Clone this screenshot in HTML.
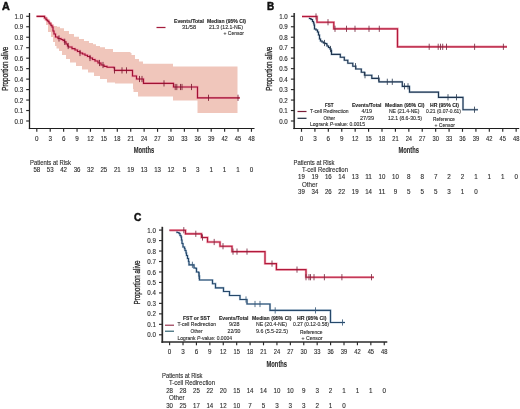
<!DOCTYPE html>
<html><head><meta charset="utf-8"><style>
html,body{margin:0;padding:0;background:#fff;}
svg{display:block;will-change:transform;}
text{font-family:"Liberation Sans", sans-serif;stroke:#2c2c2c;stroke-width:0.12px;}
</style></head><body>
<svg width="520" height="409" viewBox="0 0 520 409" fill="#2c2c2c" font-family='"Liberation Sans", sans-serif'>
<rect width="520" height="409" fill="#fff"/>
<text x="2.00" y="9.80" font-size="10" text-anchor="start" font-weight="bold" fill="#111" textLength="7.80" lengthAdjust="spacingAndGlyphs" style="stroke:#111;stroke-width:0.45px">A</text>
<path d="M43.50,16.40L46.00,16.40L46.00,17.50L48.00,17.50L48.00,19.50L50.00,19.50L50.00,22.00L52.00,22.00L52.00,24.50L54.00,24.50L54.00,26.00L57.00,26.00L57.00,26.80L60.00,26.80L60.00,28.20L64.00,28.20L64.00,31.00L69.00,31.00L69.00,34.00L74.00,34.00L74.00,36.80L79.00,36.80L79.00,39.00L84.00,39.00L84.00,41.00L89.00,41.00L89.00,43.00L93.00,43.00L93.00,44.30L96.00,44.30L96.00,46.00L100.00,46.00L100.00,47.30L105.00,47.30L105.00,49.00L113.00,49.00L113.00,52.00L130.50,52.00L130.50,53.00L131.50,53.00L131.50,55.00L135.00,55.00L135.00,59.00L139.00,59.00L139.00,61.50L143.00,61.50L143.00,63.80L173.00,63.80L173.00,63.80L173.00,66.50L237.50,66.50L237.50,66.50L237.50,113.00L197.50,113.00L197.50,113.00L197.50,100.50L173.00,100.50L173.00,100.50L173.00,96.50L144.00,96.50L144.00,96.50L138.00,96.50L138.00,92.00L133.50,92.00L133.50,89.00L133.00,89.00L133.00,83.50L115.00,83.50L115.00,82.50L107.00,82.50L107.00,79.00L100.00,79.00L100.00,76.00L94.00,76.00L94.00,72.50L88.00,72.50L88.00,69.50L82.00,69.50L82.00,66.00L76.00,66.00L76.00,62.50L70.00,62.50L70.00,59.00L66.00,59.00L66.00,55.00L62.00,55.00L62.00,51.00L59.00,51.00L59.00,48.50L56.50,48.50L56.50,46.00L55.00,46.00L55.00,42.00L53.00,42.00L53.00,37.00L51.00,37.00L51.00,32.00L48.00,32.00L48.00,25.00L46.00,25.00L46.00,20.50L44.50,20.50L44.50,17.50L43.50,17.50L43.50,16.40Z" fill="#f0c6bb"/>
<line x1="29.50" y1="13.00" x2="29.50" y2="129.10" stroke="#1e1e1e" stroke-width="1.3"/>
<line x1="28.85" y1="128.50" x2="254.50" y2="128.50" stroke="#1e1e1e" stroke-width="1.2"/>
<line x1="26.20" y1="121.00" x2="29.50" y2="121.00" stroke="#2a2a2a" stroke-width="1.15"/>
<text x="23.10" y="123.55" font-size="6.5" text-anchor="end" textLength="8.60" lengthAdjust="spacingAndGlyphs">0.0</text>
<line x1="26.20" y1="110.53" x2="29.50" y2="110.53" stroke="#2a2a2a" stroke-width="1.15"/>
<text x="23.10" y="113.08" font-size="6.5" text-anchor="end" textLength="8.60" lengthAdjust="spacingAndGlyphs">0.1</text>
<line x1="26.20" y1="100.06" x2="29.50" y2="100.06" stroke="#2a2a2a" stroke-width="1.15"/>
<text x="23.10" y="102.61" font-size="6.5" text-anchor="end" textLength="8.60" lengthAdjust="spacingAndGlyphs">0.2</text>
<line x1="26.20" y1="89.59" x2="29.50" y2="89.59" stroke="#2a2a2a" stroke-width="1.15"/>
<text x="23.10" y="92.14" font-size="6.5" text-anchor="end" textLength="8.60" lengthAdjust="spacingAndGlyphs">0.3</text>
<line x1="26.20" y1="79.12" x2="29.50" y2="79.12" stroke="#2a2a2a" stroke-width="1.15"/>
<text x="23.10" y="81.67" font-size="6.5" text-anchor="end" textLength="8.60" lengthAdjust="spacingAndGlyphs">0.4</text>
<line x1="26.20" y1="68.65" x2="29.50" y2="68.65" stroke="#2a2a2a" stroke-width="1.15"/>
<text x="23.10" y="71.20" font-size="6.5" text-anchor="end" textLength="8.60" lengthAdjust="spacingAndGlyphs">0.5</text>
<line x1="26.20" y1="58.18" x2="29.50" y2="58.18" stroke="#2a2a2a" stroke-width="1.15"/>
<text x="23.10" y="60.73" font-size="6.5" text-anchor="end" textLength="8.60" lengthAdjust="spacingAndGlyphs">0.6</text>
<line x1="26.20" y1="47.71" x2="29.50" y2="47.71" stroke="#2a2a2a" stroke-width="1.15"/>
<text x="23.10" y="50.26" font-size="6.5" text-anchor="end" textLength="8.60" lengthAdjust="spacingAndGlyphs">0.7</text>
<line x1="26.20" y1="37.24" x2="29.50" y2="37.24" stroke="#2a2a2a" stroke-width="1.15"/>
<text x="23.10" y="39.79" font-size="6.5" text-anchor="end" textLength="8.60" lengthAdjust="spacingAndGlyphs">0.8</text>
<line x1="26.20" y1="26.77" x2="29.50" y2="26.77" stroke="#2a2a2a" stroke-width="1.15"/>
<text x="23.10" y="29.32" font-size="6.5" text-anchor="end" textLength="8.60" lengthAdjust="spacingAndGlyphs">0.9</text>
<line x1="26.20" y1="16.30" x2="29.50" y2="16.30" stroke="#2a2a2a" stroke-width="1.15"/>
<text x="23.10" y="18.85" font-size="6.5" text-anchor="end" textLength="8.60" lengthAdjust="spacingAndGlyphs">1.0</text>
<line x1="36.80" y1="128.50" x2="36.80" y2="131.80" stroke="#2a2a2a" stroke-width="1.15"/>
<text x="36.80" y="140.90" font-size="6.8" text-anchor="middle" textLength="3.50" lengthAdjust="spacingAndGlyphs">0</text>
<line x1="50.22" y1="128.50" x2="50.22" y2="131.80" stroke="#2a2a2a" stroke-width="1.15"/>
<text x="50.22" y="140.90" font-size="6.8" text-anchor="middle" textLength="3.50" lengthAdjust="spacingAndGlyphs">3</text>
<line x1="63.63" y1="128.50" x2="63.63" y2="131.80" stroke="#2a2a2a" stroke-width="1.15"/>
<text x="63.63" y="140.90" font-size="6.8" text-anchor="middle" textLength="3.50" lengthAdjust="spacingAndGlyphs">6</text>
<line x1="77.05" y1="128.50" x2="77.05" y2="131.80" stroke="#2a2a2a" stroke-width="1.15"/>
<text x="77.05" y="140.90" font-size="6.8" text-anchor="middle" textLength="3.50" lengthAdjust="spacingAndGlyphs">9</text>
<line x1="90.46" y1="128.50" x2="90.46" y2="131.80" stroke="#2a2a2a" stroke-width="1.15"/>
<text x="90.46" y="140.90" font-size="6.8" text-anchor="middle" textLength="6.40" lengthAdjust="spacingAndGlyphs">12</text>
<line x1="103.88" y1="128.50" x2="103.88" y2="131.80" stroke="#2a2a2a" stroke-width="1.15"/>
<text x="103.88" y="140.90" font-size="6.8" text-anchor="middle" textLength="6.40" lengthAdjust="spacingAndGlyphs">15</text>
<line x1="117.30" y1="128.50" x2="117.30" y2="131.80" stroke="#2a2a2a" stroke-width="1.15"/>
<text x="117.30" y="140.90" font-size="6.8" text-anchor="middle" textLength="6.40" lengthAdjust="spacingAndGlyphs">18</text>
<line x1="130.71" y1="128.50" x2="130.71" y2="131.80" stroke="#2a2a2a" stroke-width="1.15"/>
<text x="130.71" y="140.90" font-size="6.8" text-anchor="middle" textLength="6.40" lengthAdjust="spacingAndGlyphs">21</text>
<line x1="144.13" y1="128.50" x2="144.13" y2="131.80" stroke="#2a2a2a" stroke-width="1.15"/>
<text x="144.13" y="140.90" font-size="6.8" text-anchor="middle" textLength="6.40" lengthAdjust="spacingAndGlyphs">24</text>
<line x1="157.54" y1="128.50" x2="157.54" y2="131.80" stroke="#2a2a2a" stroke-width="1.15"/>
<text x="157.54" y="140.90" font-size="6.8" text-anchor="middle" textLength="6.40" lengthAdjust="spacingAndGlyphs">27</text>
<line x1="170.96" y1="128.50" x2="170.96" y2="131.80" stroke="#2a2a2a" stroke-width="1.15"/>
<text x="170.96" y="140.90" font-size="6.8" text-anchor="middle" textLength="6.40" lengthAdjust="spacingAndGlyphs">30</text>
<line x1="184.38" y1="128.50" x2="184.38" y2="131.80" stroke="#2a2a2a" stroke-width="1.15"/>
<text x="184.38" y="140.90" font-size="6.8" text-anchor="middle" textLength="6.40" lengthAdjust="spacingAndGlyphs">33</text>
<line x1="197.79" y1="128.50" x2="197.79" y2="131.80" stroke="#2a2a2a" stroke-width="1.15"/>
<text x="197.79" y="140.90" font-size="6.8" text-anchor="middle" textLength="6.40" lengthAdjust="spacingAndGlyphs">36</text>
<line x1="211.21" y1="128.50" x2="211.21" y2="131.80" stroke="#2a2a2a" stroke-width="1.15"/>
<text x="211.21" y="140.90" font-size="6.8" text-anchor="middle" textLength="6.40" lengthAdjust="spacingAndGlyphs">39</text>
<line x1="224.62" y1="128.50" x2="224.62" y2="131.80" stroke="#2a2a2a" stroke-width="1.15"/>
<text x="224.62" y="140.90" font-size="6.8" text-anchor="middle" textLength="6.40" lengthAdjust="spacingAndGlyphs">42</text>
<line x1="238.04" y1="128.50" x2="238.04" y2="131.80" stroke="#2a2a2a" stroke-width="1.15"/>
<text x="238.04" y="140.90" font-size="6.8" text-anchor="middle" textLength="6.40" lengthAdjust="spacingAndGlyphs">45</text>
<line x1="251.46" y1="128.50" x2="251.46" y2="131.80" stroke="#2a2a2a" stroke-width="1.15"/>
<text x="251.46" y="140.90" font-size="6.8" text-anchor="middle" textLength="6.40" lengthAdjust="spacingAndGlyphs">48</text>
<text x="144.00" y="153.20" font-size="9.4" text-anchor="middle" font-weight="bold" fill="#2a2a2a" textLength="20.50" lengthAdjust="spacingAndGlyphs">Months</text>
<text x="0" y="0" font-size="8.6" text-anchor="middle" fill="#2a2a2a" style="stroke:#2a2a2a;stroke-width:0.32px" textLength="44.2" lengthAdjust="spacingAndGlyphs" transform="translate(7.50,68.70) rotate(-90)">Proportion alive</text>
<path d="M36.50,16.40H43.50H44.50V18.00H46.00V19.50H47.00V20.50H48.00V21.50H49.00V23.00H50.00V24.00H51.00V25.50H52.00V27.00H53.00V31.00H54.00V34.00H55.50V37.00H58.00V38.50H61.00V39.50H63.00V40.50H64.50V41.80H66.00V44.00H67.50V46.00H68.50V47.00H72.00V48.60H75.00V50.00H77.50V51.50H80.00V53.00H82.50V54.00H85.00V55.20H87.50V56.50H90.00V58.00H92.50V59.50H95.00V61.00H98.00V63.00H101.00V65.00H104.00V66.30H107.00V67.20H114.00V67.80H114.50V70.40H132.50H132.50V76.00H136.50V79.00H143.50V83.40H173.00H173.50V87.00H197.50H197.50V97.80H239.80" fill="none" stroke="#f29aac" stroke-width="2.3"/>
<path d="M36.50,16.40H43.50H44.50V18.00H46.00V19.50H47.00V20.50H48.00V21.50H49.00V23.00H50.00V24.00H51.00V25.50H52.00V27.00H53.00V31.00H54.00V34.00H55.50V37.00H58.00V38.50H61.00V39.50H63.00V40.50H64.50V41.80H66.00V44.00H67.50V46.00H68.50V47.00H72.00V48.60H75.00V50.00H77.50V51.50H80.00V53.00H82.50V54.00H85.00V55.20H87.50V56.50H90.00V58.00H92.50V59.50H95.00V61.00H98.00V63.00H101.00V65.00H104.00V66.30H107.00V67.20H114.00V67.80H114.50V70.40H132.50H132.50V76.00H136.50V79.00H143.50V83.40H173.00H173.50V87.00H197.50H197.50V97.80H239.80" fill="none" stroke="#a01232" stroke-width="1.15"/>
<line x1="59.00" y1="35.40" x2="59.00" y2="41.60" stroke="#7a1a30" stroke-width="0.85"/>
<line x1="64.70" y1="38.70" x2="64.70" y2="44.90" stroke="#7a1a30" stroke-width="0.85"/>
<line x1="68.20" y1="42.90" x2="68.20" y2="49.10" stroke="#7a1a30" stroke-width="0.85"/>
<line x1="80.00" y1="49.90" x2="80.00" y2="56.10" stroke="#7a1a30" stroke-width="0.85"/>
<line x1="90.00" y1="54.90" x2="90.00" y2="61.10" stroke="#7a1a30" stroke-width="0.85"/>
<line x1="99.50" y1="59.90" x2="99.50" y2="66.10" stroke="#7a1a30" stroke-width="0.85"/>
<line x1="103.00" y1="61.90" x2="103.00" y2="68.10" stroke="#7a1a30" stroke-width="0.85"/>
<line x1="114.50" y1="67.30" x2="114.50" y2="73.50" stroke="#7a1a30" stroke-width="0.85"/>
<line x1="122.00" y1="67.30" x2="122.00" y2="73.50" stroke="#7a1a30" stroke-width="0.85"/>
<line x1="126.50" y1="67.30" x2="126.50" y2="73.50" stroke="#7a1a30" stroke-width="0.85"/>
<line x1="139.50" y1="75.90" x2="139.50" y2="82.10" stroke="#7a1a30" stroke-width="0.85"/>
<line x1="142.00" y1="75.90" x2="142.00" y2="82.10" stroke="#7a1a30" stroke-width="0.85"/>
<line x1="164.00" y1="80.30" x2="164.00" y2="86.50" stroke="#7a1a30" stroke-width="0.85"/>
<line x1="175.20" y1="83.90" x2="175.20" y2="90.10" stroke="#7a1a30" stroke-width="0.85"/>
<line x1="176.80" y1="83.90" x2="176.80" y2="90.10" stroke="#7a1a30" stroke-width="0.85"/>
<line x1="180.50" y1="83.90" x2="180.50" y2="90.10" stroke="#7a1a30" stroke-width="0.85"/>
<line x1="182.00" y1="83.90" x2="182.00" y2="90.10" stroke="#7a1a30" stroke-width="0.85"/>
<line x1="191.50" y1="83.90" x2="191.50" y2="90.10" stroke="#7a1a30" stroke-width="0.85"/>
<line x1="208.50" y1="94.70" x2="208.50" y2="100.90" stroke="#7a1a30" stroke-width="0.85"/>
<line x1="238.00" y1="94.70" x2="238.00" y2="100.90" stroke="#7a1a30" stroke-width="0.85"/>
<line x1="156.50" y1="27.50" x2="165.50" y2="27.50" stroke="#a51c3c" stroke-width="1.25"/>
<text x="174.00" y="22.80" font-size="5.2" text-anchor="start" font-weight="bold" fill="#1e1e1e" textLength="30.00" lengthAdjust="spacingAndGlyphs">Events/Total</text>
<text x="207.00" y="22.80" font-size="5.2" text-anchor="start" font-weight="bold" fill="#1e1e1e" textLength="39.00" lengthAdjust="spacingAndGlyphs">Median (95% CI)</text>
<text x="189.00" y="29.00" font-size="5.2" text-anchor="middle" textLength="14.00" lengthAdjust="spacingAndGlyphs">31/58</text>
<text x="226.00" y="29.00" font-size="5.2" text-anchor="middle" textLength="34.00" lengthAdjust="spacingAndGlyphs">21.3 (12.1-NE)</text>
<text x="244.00" y="34.60" font-size="5.2" text-anchor="end" textLength="20.50" lengthAdjust="spacingAndGlyphs">+ Censor</text>
<text x="30.00" y="164.80" font-size="6.8" text-anchor="start" textLength="41.00" lengthAdjust="spacingAndGlyphs">Patients at Risk</text>
<text x="36.80" y="172.20" font-size="6.4" text-anchor="middle" textLength="6.80" lengthAdjust="spacingAndGlyphs">58</text>
<text x="50.22" y="172.20" font-size="6.4" text-anchor="middle" textLength="6.80" lengthAdjust="spacingAndGlyphs">53</text>
<text x="63.63" y="172.20" font-size="6.4" text-anchor="middle" textLength="6.80" lengthAdjust="spacingAndGlyphs">42</text>
<text x="77.05" y="172.20" font-size="6.4" text-anchor="middle" textLength="6.80" lengthAdjust="spacingAndGlyphs">36</text>
<text x="90.46" y="172.20" font-size="6.4" text-anchor="middle" textLength="6.80" lengthAdjust="spacingAndGlyphs">32</text>
<text x="103.88" y="172.20" font-size="6.4" text-anchor="middle" textLength="6.80" lengthAdjust="spacingAndGlyphs">25</text>
<text x="117.30" y="172.20" font-size="6.4" text-anchor="middle" textLength="6.80" lengthAdjust="spacingAndGlyphs">21</text>
<text x="130.71" y="172.20" font-size="6.4" text-anchor="middle" textLength="6.80" lengthAdjust="spacingAndGlyphs">19</text>
<text x="144.13" y="172.20" font-size="6.4" text-anchor="middle" textLength="6.80" lengthAdjust="spacingAndGlyphs">13</text>
<text x="157.54" y="172.20" font-size="6.4" text-anchor="middle" textLength="6.80" lengthAdjust="spacingAndGlyphs">13</text>
<text x="170.96" y="172.20" font-size="6.4" text-anchor="middle" textLength="6.80" lengthAdjust="spacingAndGlyphs">12</text>
<text x="184.38" y="172.20" font-size="6.4" text-anchor="middle" textLength="3.50" lengthAdjust="spacingAndGlyphs">5</text>
<text x="197.79" y="172.20" font-size="6.4" text-anchor="middle" textLength="3.50" lengthAdjust="spacingAndGlyphs">3</text>
<text x="211.21" y="172.20" font-size="6.4" text-anchor="middle" textLength="3.50" lengthAdjust="spacingAndGlyphs">1</text>
<text x="224.62" y="172.20" font-size="6.4" text-anchor="middle" textLength="3.50" lengthAdjust="spacingAndGlyphs">1</text>
<text x="238.04" y="172.20" font-size="6.4" text-anchor="middle" textLength="3.50" lengthAdjust="spacingAndGlyphs">1</text>
<text x="251.46" y="172.20" font-size="6.4" text-anchor="middle" textLength="3.50" lengthAdjust="spacingAndGlyphs">0</text>
<text x="267.00" y="9.80" font-size="10" text-anchor="start" font-weight="bold" fill="#111" textLength="7.20" lengthAdjust="spacingAndGlyphs" style="stroke:#111;stroke-width:0.45px">B</text>
<line x1="294.20" y1="13.00" x2="294.20" y2="129.10" stroke="#3c3c3c" stroke-width="1.7"/>
<line x1="293.35" y1="128.50" x2="519.20" y2="128.50" stroke="#1e1e1e" stroke-width="1.2"/>
<line x1="290.90" y1="121.00" x2="294.20" y2="121.00" stroke="#2a2a2a" stroke-width="1.15"/>
<text x="287.80" y="123.55" font-size="6.5" text-anchor="end" textLength="8.60" lengthAdjust="spacingAndGlyphs">0.0</text>
<line x1="290.90" y1="110.53" x2="294.20" y2="110.53" stroke="#2a2a2a" stroke-width="1.15"/>
<text x="287.80" y="113.08" font-size="6.5" text-anchor="end" textLength="8.60" lengthAdjust="spacingAndGlyphs">0.1</text>
<line x1="290.90" y1="100.06" x2="294.20" y2="100.06" stroke="#2a2a2a" stroke-width="1.15"/>
<text x="287.80" y="102.61" font-size="6.5" text-anchor="end" textLength="8.60" lengthAdjust="spacingAndGlyphs">0.2</text>
<line x1="290.90" y1="89.59" x2="294.20" y2="89.59" stroke="#2a2a2a" stroke-width="1.15"/>
<text x="287.80" y="92.14" font-size="6.5" text-anchor="end" textLength="8.60" lengthAdjust="spacingAndGlyphs">0.3</text>
<line x1="290.90" y1="79.12" x2="294.20" y2="79.12" stroke="#2a2a2a" stroke-width="1.15"/>
<text x="287.80" y="81.67" font-size="6.5" text-anchor="end" textLength="8.60" lengthAdjust="spacingAndGlyphs">0.4</text>
<line x1="290.90" y1="68.65" x2="294.20" y2="68.65" stroke="#2a2a2a" stroke-width="1.15"/>
<text x="287.80" y="71.20" font-size="6.5" text-anchor="end" textLength="8.60" lengthAdjust="spacingAndGlyphs">0.5</text>
<line x1="290.90" y1="58.18" x2="294.20" y2="58.18" stroke="#2a2a2a" stroke-width="1.15"/>
<text x="287.80" y="60.73" font-size="6.5" text-anchor="end" textLength="8.60" lengthAdjust="spacingAndGlyphs">0.6</text>
<line x1="290.90" y1="47.71" x2="294.20" y2="47.71" stroke="#2a2a2a" stroke-width="1.15"/>
<text x="287.80" y="50.26" font-size="6.5" text-anchor="end" textLength="8.60" lengthAdjust="spacingAndGlyphs">0.7</text>
<line x1="290.90" y1="37.24" x2="294.20" y2="37.24" stroke="#2a2a2a" stroke-width="1.15"/>
<text x="287.80" y="39.79" font-size="6.5" text-anchor="end" textLength="8.60" lengthAdjust="spacingAndGlyphs">0.8</text>
<line x1="290.90" y1="26.77" x2="294.20" y2="26.77" stroke="#2a2a2a" stroke-width="1.15"/>
<text x="287.80" y="29.32" font-size="6.5" text-anchor="end" textLength="8.60" lengthAdjust="spacingAndGlyphs">0.9</text>
<line x1="290.90" y1="16.30" x2="294.20" y2="16.30" stroke="#2a2a2a" stroke-width="1.15"/>
<text x="287.80" y="18.85" font-size="6.5" text-anchor="end" textLength="8.60" lengthAdjust="spacingAndGlyphs">1.0</text>
<line x1="301.50" y1="128.50" x2="301.50" y2="131.80" stroke="#2a2a2a" stroke-width="1.15"/>
<text x="301.50" y="140.90" font-size="6.8" text-anchor="middle" textLength="3.50" lengthAdjust="spacingAndGlyphs">0</text>
<line x1="314.92" y1="128.50" x2="314.92" y2="131.80" stroke="#2a2a2a" stroke-width="1.15"/>
<text x="314.92" y="140.90" font-size="6.8" text-anchor="middle" textLength="3.50" lengthAdjust="spacingAndGlyphs">3</text>
<line x1="328.33" y1="128.50" x2="328.33" y2="131.80" stroke="#2a2a2a" stroke-width="1.15"/>
<text x="328.33" y="140.90" font-size="6.8" text-anchor="middle" textLength="3.50" lengthAdjust="spacingAndGlyphs">6</text>
<line x1="341.75" y1="128.50" x2="341.75" y2="131.80" stroke="#2a2a2a" stroke-width="1.15"/>
<text x="341.75" y="140.90" font-size="6.8" text-anchor="middle" textLength="3.50" lengthAdjust="spacingAndGlyphs">9</text>
<line x1="355.16" y1="128.50" x2="355.16" y2="131.80" stroke="#2a2a2a" stroke-width="1.15"/>
<text x="355.16" y="140.90" font-size="6.8" text-anchor="middle" textLength="6.40" lengthAdjust="spacingAndGlyphs">12</text>
<line x1="368.58" y1="128.50" x2="368.58" y2="131.80" stroke="#2a2a2a" stroke-width="1.15"/>
<text x="368.58" y="140.90" font-size="6.8" text-anchor="middle" textLength="6.40" lengthAdjust="spacingAndGlyphs">15</text>
<line x1="382.00" y1="128.50" x2="382.00" y2="131.80" stroke="#2a2a2a" stroke-width="1.15"/>
<text x="382.00" y="140.90" font-size="6.8" text-anchor="middle" textLength="6.40" lengthAdjust="spacingAndGlyphs">18</text>
<line x1="395.41" y1="128.50" x2="395.41" y2="131.80" stroke="#2a2a2a" stroke-width="1.15"/>
<text x="395.41" y="140.90" font-size="6.8" text-anchor="middle" textLength="6.40" lengthAdjust="spacingAndGlyphs">21</text>
<line x1="408.83" y1="128.50" x2="408.83" y2="131.80" stroke="#2a2a2a" stroke-width="1.15"/>
<text x="408.83" y="140.90" font-size="6.8" text-anchor="middle" textLength="6.40" lengthAdjust="spacingAndGlyphs">24</text>
<line x1="422.24" y1="128.50" x2="422.24" y2="131.80" stroke="#2a2a2a" stroke-width="1.15"/>
<text x="422.24" y="140.90" font-size="6.8" text-anchor="middle" textLength="6.40" lengthAdjust="spacingAndGlyphs">27</text>
<line x1="435.66" y1="128.50" x2="435.66" y2="131.80" stroke="#2a2a2a" stroke-width="1.15"/>
<text x="435.66" y="140.90" font-size="6.8" text-anchor="middle" textLength="6.40" lengthAdjust="spacingAndGlyphs">30</text>
<line x1="449.08" y1="128.50" x2="449.08" y2="131.80" stroke="#2a2a2a" stroke-width="1.15"/>
<text x="449.08" y="140.90" font-size="6.8" text-anchor="middle" textLength="6.40" lengthAdjust="spacingAndGlyphs">33</text>
<line x1="462.49" y1="128.50" x2="462.49" y2="131.80" stroke="#2a2a2a" stroke-width="1.15"/>
<text x="462.49" y="140.90" font-size="6.8" text-anchor="middle" textLength="6.40" lengthAdjust="spacingAndGlyphs">36</text>
<line x1="475.91" y1="128.50" x2="475.91" y2="131.80" stroke="#2a2a2a" stroke-width="1.15"/>
<text x="475.91" y="140.90" font-size="6.8" text-anchor="middle" textLength="6.40" lengthAdjust="spacingAndGlyphs">39</text>
<line x1="489.32" y1="128.50" x2="489.32" y2="131.80" stroke="#2a2a2a" stroke-width="1.15"/>
<text x="489.32" y="140.90" font-size="6.8" text-anchor="middle" textLength="6.40" lengthAdjust="spacingAndGlyphs">42</text>
<line x1="502.74" y1="128.50" x2="502.74" y2="131.80" stroke="#2a2a2a" stroke-width="1.15"/>
<text x="502.74" y="140.90" font-size="6.8" text-anchor="middle" textLength="6.40" lengthAdjust="spacingAndGlyphs">45</text>
<line x1="516.16" y1="128.50" x2="516.16" y2="131.80" stroke="#2a2a2a" stroke-width="1.15"/>
<text x="516.16" y="140.90" font-size="6.8" text-anchor="middle" textLength="6.40" lengthAdjust="spacingAndGlyphs">48</text>
<text x="408.70" y="153.20" font-size="9.4" text-anchor="middle" font-weight="bold" fill="#2a2a2a" textLength="20.50" lengthAdjust="spacingAndGlyphs">Months</text>
<text x="0" y="0" font-size="8.6" text-anchor="middle" fill="#2a2a2a" style="stroke:#2a2a2a;stroke-width:0.32px" textLength="44.2" lengthAdjust="spacingAndGlyphs" transform="translate(272.20,68.70) rotate(-90)">Proportion alive</text>
<path d="M302.00,16.50H309.00H309.50V18.50H311.00V19.50H312.50V21.50H313.50V23.00H314.00V25.00H314.50V29.00H316.00V30.00H317.50V32.00H318.50V35.00H319.50V39.00H320.50V41.00H322.00V42.00H323.50V43.00H325.00V43.50H326.50V44.00H327.00V46.00H328.50V47.50H330.00V49.00H331.00V50.50H331.50V54.30H340.30H340.30V57.20H344.30H344.30V60.20H347.80H347.80V63.20H352.80H352.80V66.20H355.80H355.80V69.00H361.30H361.30V72.20H364.30H364.50V75.20H371.80H371.80V78.30H379.00H379.00V81.80H402.30H402.30V86.30H409.50H409.50V92.10H438.50H438.50V97.30H463.00H463.00V109.70H478.00" fill="none" stroke="#c4d4e2" stroke-width="2.2"/>
<path d="M302.00,16.50H309.00H309.50V18.50H311.00V19.50H312.50V21.50H313.50V23.00H314.00V25.00H314.50V29.00H316.00V30.00H317.50V32.00H318.50V35.00H319.50V39.00H320.50V41.00H322.00V42.00H323.50V43.00H325.00V43.50H326.50V44.00H327.00V46.00H328.50V47.50H330.00V49.00H331.00V50.50H331.50V54.30H340.30H340.30V57.20H344.30H344.30V60.20H347.80H347.80V63.20H352.80H352.80V66.20H355.80H355.80V69.00H361.30H361.30V72.20H364.30H364.50V75.20H371.80H371.80V78.30H379.00H379.00V81.80H402.30H402.30V86.30H409.50H409.50V92.10H438.50H438.50V97.30H463.00H463.00V109.70H478.00" fill="none" stroke="#1f3550" stroke-width="1.15"/>
<line x1="324.50" y1="39.90" x2="324.50" y2="46.10" stroke="#2e3d52" stroke-width="0.85"/>
<line x1="330.50" y1="45.90" x2="330.50" y2="52.10" stroke="#2e3d52" stroke-width="0.85"/>
<line x1="355.50" y1="63.10" x2="355.50" y2="69.30" stroke="#2e3d52" stroke-width="0.85"/>
<line x1="365.00" y1="72.10" x2="365.00" y2="78.30" stroke="#2e3d52" stroke-width="0.85"/>
<line x1="378.50" y1="75.20" x2="378.50" y2="81.40" stroke="#2e3d52" stroke-width="0.85"/>
<line x1="387.30" y1="78.70" x2="387.30" y2="84.90" stroke="#2e3d52" stroke-width="0.85"/>
<line x1="392.30" y1="78.70" x2="392.30" y2="84.90" stroke="#2e3d52" stroke-width="0.85"/>
<line x1="404.50" y1="83.20" x2="404.50" y2="89.40" stroke="#2e3d52" stroke-width="0.85"/>
<line x1="408.00" y1="83.20" x2="408.00" y2="89.40" stroke="#2e3d52" stroke-width="0.85"/>
<line x1="448.00" y1="94.20" x2="448.00" y2="100.40" stroke="#2e3d52" stroke-width="0.85"/>
<line x1="456.50" y1="94.20" x2="456.50" y2="100.40" stroke="#2e3d52" stroke-width="0.85"/>
<line x1="474.50" y1="106.60" x2="474.50" y2="112.80" stroke="#2e3d52" stroke-width="0.85"/>
<path d="M302.00,16.50H317.00H317.00V22.20H333.80H333.80V28.80H397.50H397.50V46.80H507.00" fill="none" stroke="#f2a6b6" stroke-width="2.4"/>
<path d="M302.00,16.50H317.00H317.00V22.20H333.80H333.80V28.80H397.50H397.50V46.80H507.00" fill="none" stroke="#b2193b" stroke-width="1.15"/>
<line x1="316.00" y1="13.40" x2="316.00" y2="19.60" stroke="#7a2a42" stroke-width="0.85"/>
<line x1="328.00" y1="19.10" x2="328.00" y2="25.30" stroke="#7a2a42" stroke-width="0.85"/>
<line x1="335.00" y1="25.70" x2="335.00" y2="31.90" stroke="#7a2a42" stroke-width="0.85"/>
<line x1="346.50" y1="25.70" x2="346.50" y2="31.90" stroke="#7a2a42" stroke-width="0.85"/>
<line x1="355.00" y1="25.70" x2="355.00" y2="31.90" stroke="#7a2a42" stroke-width="0.85"/>
<line x1="369.00" y1="25.70" x2="369.00" y2="31.90" stroke="#7a2a42" stroke-width="0.85"/>
<line x1="379.30" y1="25.70" x2="379.30" y2="31.90" stroke="#7a2a42" stroke-width="0.85"/>
<line x1="429.20" y1="43.70" x2="429.20" y2="49.90" stroke="#7a2a42" stroke-width="0.85"/>
<line x1="438.20" y1="43.70" x2="438.20" y2="49.90" stroke="#7a2a42" stroke-width="0.85"/>
<line x1="440.50" y1="43.70" x2="440.50" y2="49.90" stroke="#7a2a42" stroke-width="0.85"/>
<line x1="442.70" y1="43.70" x2="442.70" y2="49.90" stroke="#7a2a42" stroke-width="0.85"/>
<line x1="446.50" y1="43.70" x2="446.50" y2="49.90" stroke="#7a2a42" stroke-width="0.85"/>
<line x1="474.60" y1="43.70" x2="474.60" y2="49.90" stroke="#7a2a42" stroke-width="0.85"/>
<line x1="503.40" y1="43.70" x2="503.40" y2="49.90" stroke="#7a2a42" stroke-width="0.85"/>
<text x="329.30" y="107.00" font-size="5.2" text-anchor="middle" font-weight="bold" fill="#1e1e1e" textLength="8.50" lengthAdjust="spacingAndGlyphs">FST</text>
<text x="352.00" y="107.00" font-size="5.2" text-anchor="start" font-weight="bold" fill="#1e1e1e" textLength="29.50" lengthAdjust="spacingAndGlyphs">Events/Total</text>
<text x="385.00" y="107.00" font-size="5.2" text-anchor="start" font-weight="bold" fill="#1e1e1e" textLength="39.50" lengthAdjust="spacingAndGlyphs">Median (95% CI)</text>
<text x="430.00" y="106.80" font-size="5.2" text-anchor="start" font-weight="bold" fill="#1e1e1e" textLength="29.00" lengthAdjust="spacingAndGlyphs">HR (95% CI)</text>
<line x1="297.50" y1="111.50" x2="306.50" y2="111.50" stroke="#7a1e38" stroke-width="1.2"/>
<text x="310.00" y="113.20" font-size="5.2" text-anchor="start" textLength="38.50" lengthAdjust="spacingAndGlyphs">T-cell Redirection</text>
<text x="366.80" y="113.20" font-size="5.2" text-anchor="middle" textLength="10.50" lengthAdjust="spacingAndGlyphs">4/19</text>
<text x="404.20" y="113.20" font-size="5.2" text-anchor="middle" textLength="30.50" lengthAdjust="spacingAndGlyphs">NE (21.4-NE)</text>
<text x="443.50" y="113.40" font-size="5.2" text-anchor="middle" textLength="35.00" lengthAdjust="spacingAndGlyphs">0.21 (0.07-0.61)</text>
<line x1="297.50" y1="118.30" x2="306.50" y2="118.30" stroke="#1e2a3c" stroke-width="1.2"/>
<text x="329.30" y="120.10" font-size="5.2" text-anchor="middle" textLength="11.50" lengthAdjust="spacingAndGlyphs">Other</text>
<text x="367.00" y="120.10" font-size="5.2" text-anchor="middle" textLength="14.00" lengthAdjust="spacingAndGlyphs">27/39</text>
<text x="405.00" y="120.10" font-size="5.2" text-anchor="middle" textLength="34.00" lengthAdjust="spacingAndGlyphs">12.1 (8.6-30.5)</text>
<text x="444.00" y="120.60" font-size="5.2" text-anchor="middle" textLength="22.00" lengthAdjust="spacingAndGlyphs">Reference</text>
<text x="310" y="126.2" font-size="5.2" textLength="55" lengthAdjust="spacingAndGlyphs">Logrank <tspan font-style="italic">P</tspan>-value: 0.0015</text>
<text x="455.00" y="126.60" font-size="5.2" text-anchor="end" textLength="20.50" lengthAdjust="spacingAndGlyphs">+ Censor</text>
<text x="293.50" y="164.60" font-size="6.8" text-anchor="start" textLength="41.00" lengthAdjust="spacingAndGlyphs">Patients at Risk</text>
<text x="302.00" y="171.60" font-size="6.5" text-anchor="start" textLength="46.00" lengthAdjust="spacingAndGlyphs">T-cell Redirection</text>
<text x="301.50" y="179.20" font-size="6.4" text-anchor="middle" textLength="6.80" lengthAdjust="spacingAndGlyphs">19</text>
<text x="314.92" y="179.20" font-size="6.4" text-anchor="middle" textLength="6.80" lengthAdjust="spacingAndGlyphs">19</text>
<text x="328.33" y="179.20" font-size="6.4" text-anchor="middle" textLength="6.80" lengthAdjust="spacingAndGlyphs">16</text>
<text x="341.75" y="179.20" font-size="6.4" text-anchor="middle" textLength="6.80" lengthAdjust="spacingAndGlyphs">14</text>
<text x="355.16" y="179.20" font-size="6.4" text-anchor="middle" textLength="6.80" lengthAdjust="spacingAndGlyphs">13</text>
<text x="368.58" y="179.20" font-size="6.4" text-anchor="middle" textLength="6.80" lengthAdjust="spacingAndGlyphs">11</text>
<text x="382.00" y="179.20" font-size="6.4" text-anchor="middle" textLength="6.80" lengthAdjust="spacingAndGlyphs">10</text>
<text x="395.41" y="179.20" font-size="6.4" text-anchor="middle" textLength="6.80" lengthAdjust="spacingAndGlyphs">10</text>
<text x="408.83" y="179.20" font-size="6.4" text-anchor="middle" textLength="3.50" lengthAdjust="spacingAndGlyphs">8</text>
<text x="422.24" y="179.20" font-size="6.4" text-anchor="middle" textLength="3.50" lengthAdjust="spacingAndGlyphs">8</text>
<text x="435.66" y="179.20" font-size="6.4" text-anchor="middle" textLength="3.50" lengthAdjust="spacingAndGlyphs">7</text>
<text x="449.08" y="179.20" font-size="6.4" text-anchor="middle" textLength="3.50" lengthAdjust="spacingAndGlyphs">2</text>
<text x="462.49" y="179.20" font-size="6.4" text-anchor="middle" textLength="3.50" lengthAdjust="spacingAndGlyphs">2</text>
<text x="475.91" y="179.20" font-size="6.4" text-anchor="middle" textLength="3.50" lengthAdjust="spacingAndGlyphs">1</text>
<text x="489.32" y="179.20" font-size="6.4" text-anchor="middle" textLength="3.50" lengthAdjust="spacingAndGlyphs">1</text>
<text x="502.74" y="179.20" font-size="6.4" text-anchor="middle" textLength="3.50" lengthAdjust="spacingAndGlyphs">1</text>
<text x="516.16" y="179.20" font-size="6.4" text-anchor="middle" textLength="3.50" lengthAdjust="spacingAndGlyphs">0</text>
<text x="302.00" y="186.60" font-size="6.5" text-anchor="start" textLength="15.50" lengthAdjust="spacingAndGlyphs">Other</text>
<text x="301.50" y="194.20" font-size="6.4" text-anchor="middle" textLength="6.80" lengthAdjust="spacingAndGlyphs">39</text>
<text x="314.92" y="194.20" font-size="6.4" text-anchor="middle" textLength="6.80" lengthAdjust="spacingAndGlyphs">34</text>
<text x="328.33" y="194.20" font-size="6.4" text-anchor="middle" textLength="6.80" lengthAdjust="spacingAndGlyphs">26</text>
<text x="341.75" y="194.20" font-size="6.4" text-anchor="middle" textLength="6.80" lengthAdjust="spacingAndGlyphs">22</text>
<text x="355.16" y="194.20" font-size="6.4" text-anchor="middle" textLength="6.80" lengthAdjust="spacingAndGlyphs">19</text>
<text x="368.58" y="194.20" font-size="6.4" text-anchor="middle" textLength="6.80" lengthAdjust="spacingAndGlyphs">14</text>
<text x="382.00" y="194.20" font-size="6.4" text-anchor="middle" textLength="6.80" lengthAdjust="spacingAndGlyphs">11</text>
<text x="395.41" y="194.20" font-size="6.4" text-anchor="middle" textLength="3.50" lengthAdjust="spacingAndGlyphs">9</text>
<text x="408.83" y="194.20" font-size="6.4" text-anchor="middle" textLength="3.50" lengthAdjust="spacingAndGlyphs">5</text>
<text x="422.24" y="194.20" font-size="6.4" text-anchor="middle" textLength="3.50" lengthAdjust="spacingAndGlyphs">5</text>
<text x="435.66" y="194.20" font-size="6.4" text-anchor="middle" textLength="3.50" lengthAdjust="spacingAndGlyphs">5</text>
<text x="449.08" y="194.20" font-size="6.4" text-anchor="middle" textLength="3.50" lengthAdjust="spacingAndGlyphs">3</text>
<text x="462.49" y="194.20" font-size="6.4" text-anchor="middle" textLength="3.50" lengthAdjust="spacingAndGlyphs">1</text>
<text x="475.91" y="194.20" font-size="6.4" text-anchor="middle" textLength="3.50" lengthAdjust="spacingAndGlyphs">0</text>
<text x="134.00" y="220.70" font-size="10" text-anchor="start" font-weight="bold" fill="#111" textLength="7.40" lengthAdjust="spacingAndGlyphs" style="stroke:#111;stroke-width:0.45px">C</text>
<line x1="162.30" y1="226.80" x2="162.30" y2="342.90" stroke="#2a2a2a" stroke-width="1.7"/>
<line x1="161.45" y1="342.00" x2="387.30" y2="342.00" stroke="#2a2a2a" stroke-width="1.6"/>
<line x1="159.00" y1="334.80" x2="162.30" y2="334.80" stroke="#2a2a2a" stroke-width="1.15"/>
<text x="155.90" y="337.35" font-size="6.5" text-anchor="end" textLength="8.60" lengthAdjust="spacingAndGlyphs">0.0</text>
<line x1="159.00" y1="324.33" x2="162.30" y2="324.33" stroke="#2a2a2a" stroke-width="1.15"/>
<text x="155.90" y="326.88" font-size="6.5" text-anchor="end" textLength="8.60" lengthAdjust="spacingAndGlyphs">0.1</text>
<line x1="159.00" y1="313.86" x2="162.30" y2="313.86" stroke="#2a2a2a" stroke-width="1.15"/>
<text x="155.90" y="316.41" font-size="6.5" text-anchor="end" textLength="8.60" lengthAdjust="spacingAndGlyphs">0.2</text>
<line x1="159.00" y1="303.39" x2="162.30" y2="303.39" stroke="#2a2a2a" stroke-width="1.15"/>
<text x="155.90" y="305.94" font-size="6.5" text-anchor="end" textLength="8.60" lengthAdjust="spacingAndGlyphs">0.3</text>
<line x1="159.00" y1="292.92" x2="162.30" y2="292.92" stroke="#2a2a2a" stroke-width="1.15"/>
<text x="155.90" y="295.47" font-size="6.5" text-anchor="end" textLength="8.60" lengthAdjust="spacingAndGlyphs">0.4</text>
<line x1="159.00" y1="282.45" x2="162.30" y2="282.45" stroke="#2a2a2a" stroke-width="1.15"/>
<text x="155.90" y="285.00" font-size="6.5" text-anchor="end" textLength="8.60" lengthAdjust="spacingAndGlyphs">0.5</text>
<line x1="159.00" y1="271.98" x2="162.30" y2="271.98" stroke="#2a2a2a" stroke-width="1.15"/>
<text x="155.90" y="274.53" font-size="6.5" text-anchor="end" textLength="8.60" lengthAdjust="spacingAndGlyphs">0.6</text>
<line x1="159.00" y1="261.51" x2="162.30" y2="261.51" stroke="#2a2a2a" stroke-width="1.15"/>
<text x="155.90" y="264.06" font-size="6.5" text-anchor="end" textLength="8.60" lengthAdjust="spacingAndGlyphs">0.7</text>
<line x1="159.00" y1="251.04" x2="162.30" y2="251.04" stroke="#2a2a2a" stroke-width="1.15"/>
<text x="155.90" y="253.59" font-size="6.5" text-anchor="end" textLength="8.60" lengthAdjust="spacingAndGlyphs">0.8</text>
<line x1="159.00" y1="240.57" x2="162.30" y2="240.57" stroke="#2a2a2a" stroke-width="1.15"/>
<text x="155.90" y="243.12" font-size="6.5" text-anchor="end" textLength="8.60" lengthAdjust="spacingAndGlyphs">0.9</text>
<line x1="159.00" y1="230.10" x2="162.30" y2="230.10" stroke="#2a2a2a" stroke-width="1.15"/>
<text x="155.90" y="232.65" font-size="6.5" text-anchor="end" textLength="8.60" lengthAdjust="spacingAndGlyphs">1.0</text>
<line x1="169.60" y1="342.00" x2="169.60" y2="345.30" stroke="#2a2a2a" stroke-width="1.15"/>
<text x="169.60" y="354.10" font-size="6.8" text-anchor="middle" textLength="3.50" lengthAdjust="spacingAndGlyphs">0</text>
<line x1="183.02" y1="342.00" x2="183.02" y2="345.30" stroke="#2a2a2a" stroke-width="1.15"/>
<text x="183.02" y="354.10" font-size="6.8" text-anchor="middle" textLength="3.50" lengthAdjust="spacingAndGlyphs">3</text>
<line x1="196.43" y1="342.00" x2="196.43" y2="345.30" stroke="#2a2a2a" stroke-width="1.15"/>
<text x="196.43" y="354.10" font-size="6.8" text-anchor="middle" textLength="3.50" lengthAdjust="spacingAndGlyphs">6</text>
<line x1="209.85" y1="342.00" x2="209.85" y2="345.30" stroke="#2a2a2a" stroke-width="1.15"/>
<text x="209.85" y="354.10" font-size="6.8" text-anchor="middle" textLength="3.50" lengthAdjust="spacingAndGlyphs">9</text>
<line x1="223.26" y1="342.00" x2="223.26" y2="345.30" stroke="#2a2a2a" stroke-width="1.15"/>
<text x="223.26" y="354.10" font-size="6.8" text-anchor="middle" textLength="6.40" lengthAdjust="spacingAndGlyphs">12</text>
<line x1="236.68" y1="342.00" x2="236.68" y2="345.30" stroke="#2a2a2a" stroke-width="1.15"/>
<text x="236.68" y="354.10" font-size="6.8" text-anchor="middle" textLength="6.40" lengthAdjust="spacingAndGlyphs">15</text>
<line x1="250.10" y1="342.00" x2="250.10" y2="345.30" stroke="#2a2a2a" stroke-width="1.15"/>
<text x="250.10" y="354.10" font-size="6.8" text-anchor="middle" textLength="6.40" lengthAdjust="spacingAndGlyphs">18</text>
<line x1="263.51" y1="342.00" x2="263.51" y2="345.30" stroke="#2a2a2a" stroke-width="1.15"/>
<text x="263.51" y="354.10" font-size="6.8" text-anchor="middle" textLength="6.40" lengthAdjust="spacingAndGlyphs">21</text>
<line x1="276.93" y1="342.00" x2="276.93" y2="345.30" stroke="#2a2a2a" stroke-width="1.15"/>
<text x="276.93" y="354.10" font-size="6.8" text-anchor="middle" textLength="6.40" lengthAdjust="spacingAndGlyphs">24</text>
<line x1="290.34" y1="342.00" x2="290.34" y2="345.30" stroke="#2a2a2a" stroke-width="1.15"/>
<text x="290.34" y="354.10" font-size="6.8" text-anchor="middle" textLength="6.40" lengthAdjust="spacingAndGlyphs">27</text>
<line x1="303.76" y1="342.00" x2="303.76" y2="345.30" stroke="#2a2a2a" stroke-width="1.15"/>
<text x="303.76" y="354.10" font-size="6.8" text-anchor="middle" textLength="6.40" lengthAdjust="spacingAndGlyphs">30</text>
<line x1="317.18" y1="342.00" x2="317.18" y2="345.30" stroke="#2a2a2a" stroke-width="1.15"/>
<text x="317.18" y="354.10" font-size="6.8" text-anchor="middle" textLength="6.40" lengthAdjust="spacingAndGlyphs">33</text>
<line x1="330.59" y1="342.00" x2="330.59" y2="345.30" stroke="#2a2a2a" stroke-width="1.15"/>
<text x="330.59" y="354.10" font-size="6.8" text-anchor="middle" textLength="6.40" lengthAdjust="spacingAndGlyphs">36</text>
<line x1="344.01" y1="342.00" x2="344.01" y2="345.30" stroke="#2a2a2a" stroke-width="1.15"/>
<text x="344.01" y="354.10" font-size="6.8" text-anchor="middle" textLength="6.40" lengthAdjust="spacingAndGlyphs">39</text>
<line x1="357.42" y1="342.00" x2="357.42" y2="345.30" stroke="#2a2a2a" stroke-width="1.15"/>
<text x="357.42" y="354.10" font-size="6.8" text-anchor="middle" textLength="6.40" lengthAdjust="spacingAndGlyphs">42</text>
<line x1="370.84" y1="342.00" x2="370.84" y2="345.30" stroke="#2a2a2a" stroke-width="1.15"/>
<text x="370.84" y="354.10" font-size="6.8" text-anchor="middle" textLength="6.40" lengthAdjust="spacingAndGlyphs">45</text>
<line x1="384.26" y1="342.00" x2="384.26" y2="345.30" stroke="#2a2a2a" stroke-width="1.15"/>
<text x="384.26" y="354.10" font-size="6.8" text-anchor="middle" textLength="6.40" lengthAdjust="spacingAndGlyphs">48</text>
<text x="276.80" y="366.60" font-size="9.4" text-anchor="middle" font-weight="bold" fill="#2a2a2a" textLength="20.50" lengthAdjust="spacingAndGlyphs">Months</text>
<text x="0" y="0" font-size="8.6" text-anchor="middle" fill="#2a2a2a" style="stroke:#2a2a2a;stroke-width:0.32px" textLength="44.2" lengthAdjust="spacingAndGlyphs" transform="translate(140.30,282.50) rotate(-90)">Proportion alive</text>
<path d="M169.50,230.20H176.50H177.00V232.50H179.00V233.50H180.00V235.50H181.00V237.00H181.50V240.00H182.00V243.50H183.00V247.00H184.50V248.50H185.00V250.50H186.00V253.00H186.50V255.50H187.50V258.50H188.50V261.50H189.00V264.80H194.00H194.00V268.00H196.00V268.50H196.50V272.00H198.50V272.50H199.00V276.00H199.50V280.00H212.50H212.50V283.70H215.50H215.50V287.80H223.50H223.50V291.50H229.50H229.50V295.50H240.00H240.00V299.50H247.00H247.00V304.00H270.00H270.00V310.40H330.50H330.50V322.50H345.00" fill="none" stroke="#bcd0e2" stroke-width="2.2"/>
<path d="M169.50,230.20H176.50H177.00V232.50H179.00V233.50H180.00V235.50H181.00V237.00H181.50V240.00H182.00V243.50H183.00V247.00H184.50V248.50H185.00V250.50H186.00V253.00H186.50V255.50H187.50V258.50H188.50V261.50H189.00V264.80H194.00H194.00V268.00H196.00V268.50H196.50V272.00H198.50V272.50H199.00V276.00H199.50V280.00H212.50H212.50V283.70H215.50H215.50V287.80H223.50H223.50V291.50H229.50H229.50V295.50H240.00H240.00V299.50H247.00H247.00V304.00H270.00H270.00V310.40H330.50H330.50V322.50H345.00" fill="none" stroke="#26486a" stroke-width="1.15"/>
<line x1="192.40" y1="261.70" x2="192.40" y2="267.90" stroke="#3a5a78" stroke-width="0.85"/>
<line x1="199.00" y1="272.90" x2="199.00" y2="279.10" stroke="#3a5a78" stroke-width="0.85"/>
<line x1="246.00" y1="296.40" x2="246.00" y2="302.60" stroke="#3a5a78" stroke-width="0.85"/>
<line x1="255.00" y1="300.90" x2="255.00" y2="307.10" stroke="#3a5a78" stroke-width="0.85"/>
<line x1="260.00" y1="300.90" x2="260.00" y2="307.10" stroke="#3a5a78" stroke-width="0.85"/>
<line x1="275.20" y1="307.30" x2="275.20" y2="313.50" stroke="#3a5a78" stroke-width="0.85"/>
<line x1="315.50" y1="307.30" x2="315.50" y2="313.50" stroke="#3a5a78" stroke-width="0.85"/>
<line x1="342.50" y1="319.40" x2="342.50" y2="325.60" stroke="#3a5a78" stroke-width="0.85"/>
<path d="M169.50,230.20H185.50H185.50V233.80H201.50H201.50V237.50H207.50H207.50V242.00H220.00H220.00V246.20H232.00H232.00V251.60H265.00H265.00V263.60H276.40H276.40V269.60H306.00H306.00V277.20H374.00" fill="none" stroke="#f2a6b6" stroke-width="2.4"/>
<path d="M169.50,230.20H185.50H185.50V233.80H201.50H201.50V237.50H207.50H207.50V242.00H220.00H220.00V246.20H232.00H232.00V251.60H265.00H265.00V263.60H276.40H276.40V269.60H306.00H306.00V277.20H374.00" fill="none" stroke="#b2193b" stroke-width="1.15"/>
<line x1="183.80" y1="227.10" x2="183.80" y2="233.30" stroke="#7a2a42" stroke-width="0.85"/>
<line x1="195.80" y1="230.70" x2="195.80" y2="236.90" stroke="#7a2a42" stroke-width="0.85"/>
<line x1="202.50" y1="234.40" x2="202.50" y2="240.60" stroke="#7a2a42" stroke-width="0.85"/>
<line x1="214.20" y1="238.90" x2="214.20" y2="245.10" stroke="#7a2a42" stroke-width="0.85"/>
<line x1="223.00" y1="243.10" x2="223.00" y2="249.30" stroke="#7a2a42" stroke-width="0.85"/>
<line x1="233.00" y1="248.50" x2="233.00" y2="254.70" stroke="#7a2a42" stroke-width="0.85"/>
<line x1="237.00" y1="248.50" x2="237.00" y2="254.70" stroke="#7a2a42" stroke-width="0.85"/>
<line x1="247.00" y1="248.50" x2="247.00" y2="254.70" stroke="#7a2a42" stroke-width="0.85"/>
<line x1="272.00" y1="260.50" x2="272.00" y2="266.70" stroke="#7a2a42" stroke-width="0.85"/>
<line x1="297.00" y1="266.50" x2="297.00" y2="272.70" stroke="#7a2a42" stroke-width="0.85"/>
<line x1="306.00" y1="274.10" x2="306.00" y2="280.30" stroke="#7a2a42" stroke-width="0.85"/>
<line x1="309.00" y1="274.10" x2="309.00" y2="280.30" stroke="#7a2a42" stroke-width="0.85"/>
<line x1="310.50" y1="274.10" x2="310.50" y2="280.30" stroke="#7a2a42" stroke-width="0.85"/>
<line x1="314.00" y1="274.10" x2="314.00" y2="280.30" stroke="#7a2a42" stroke-width="0.85"/>
<line x1="324.40" y1="274.10" x2="324.40" y2="280.30" stroke="#7a2a42" stroke-width="0.85"/>
<line x1="341.90" y1="274.10" x2="341.90" y2="280.30" stroke="#7a2a42" stroke-width="0.85"/>
<line x1="371.50" y1="274.10" x2="371.50" y2="280.30" stroke="#7a2a42" stroke-width="0.85"/>
<text x="196.50" y="319.60" font-size="5.2" text-anchor="middle" font-weight="bold" fill="#1e1e1e" textLength="27.00" lengthAdjust="spacingAndGlyphs">FST or SST</text>
<text x="219.00" y="319.60" font-size="5.2" text-anchor="start" font-weight="bold" fill="#1e1e1e" textLength="29.50" lengthAdjust="spacingAndGlyphs">Events/Total</text>
<text x="252.00" y="319.60" font-size="5.2" text-anchor="start" font-weight="bold" fill="#1e1e1e" textLength="39.50" lengthAdjust="spacingAndGlyphs">Median (95% CI)</text>
<text x="297.00" y="319.60" font-size="5.2" text-anchor="start" font-weight="bold" fill="#1e1e1e" textLength="29.50" lengthAdjust="spacingAndGlyphs">HR (95% CI)</text>
<line x1="165.00" y1="325.20" x2="174.00" y2="325.20" stroke="#8e2542" stroke-width="1.1"/>
<text x="177.50" y="326.10" font-size="5.2" text-anchor="start" textLength="38.50" lengthAdjust="spacingAndGlyphs">T-cell Redirection</text>
<text x="234.20" y="326.10" font-size="5.2" text-anchor="middle" textLength="10.50" lengthAdjust="spacingAndGlyphs">9/28</text>
<text x="271.50" y="326.10" font-size="5.2" text-anchor="middle" textLength="31.00" lengthAdjust="spacingAndGlyphs">NE (20.4-NE)</text>
<text x="311.00" y="326.10" font-size="5.2" text-anchor="middle" textLength="36.00" lengthAdjust="spacingAndGlyphs">0.27 (0.12-0.58)</text>
<line x1="165.00" y1="331.20" x2="174.00" y2="331.20" stroke="#1f5464" stroke-width="1.1"/>
<text x="196.50" y="333.10" font-size="5.2" text-anchor="middle" textLength="12.00" lengthAdjust="spacingAndGlyphs">Other</text>
<text x="234.00" y="333.10" font-size="5.2" text-anchor="middle" textLength="13.00" lengthAdjust="spacingAndGlyphs">22/30</text>
<text x="272.00" y="333.10" font-size="5.2" text-anchor="middle" textLength="32.00" lengthAdjust="spacingAndGlyphs">9.6 (5.5-22.5)</text>
<text x="311.20" y="333.60" font-size="5.2" text-anchor="middle" textLength="22.50" lengthAdjust="spacingAndGlyphs">Reference</text>
<text x="177.5" y="339.6" font-size="5.2" fill="#2c2c2c" textLength="54.5" lengthAdjust="spacingAndGlyphs">Logrank <tspan font-style="italic">P</tspan>-value: 0.0004</text>
<text x="322.50" y="339.60" font-size="5.2" text-anchor="end" textLength="21.00" lengthAdjust="spacingAndGlyphs">+ Censor</text>
<text x="162.00" y="378.20" font-size="6.8" text-anchor="start" textLength="40.50" lengthAdjust="spacingAndGlyphs">Patients at Risk</text>
<text x="169.00" y="385.20" font-size="6.5" text-anchor="start" textLength="46.00" lengthAdjust="spacingAndGlyphs">T-cell Redirection</text>
<text x="169.60" y="392.70" font-size="6.4" text-anchor="middle" textLength="6.80" lengthAdjust="spacingAndGlyphs">28</text>
<text x="183.02" y="392.70" font-size="6.4" text-anchor="middle" textLength="6.80" lengthAdjust="spacingAndGlyphs">28</text>
<text x="196.43" y="392.70" font-size="6.4" text-anchor="middle" textLength="6.80" lengthAdjust="spacingAndGlyphs">25</text>
<text x="209.85" y="392.70" font-size="6.4" text-anchor="middle" textLength="6.80" lengthAdjust="spacingAndGlyphs">22</text>
<text x="223.26" y="392.70" font-size="6.4" text-anchor="middle" textLength="6.80" lengthAdjust="spacingAndGlyphs">20</text>
<text x="236.68" y="392.70" font-size="6.4" text-anchor="middle" textLength="6.80" lengthAdjust="spacingAndGlyphs">15</text>
<text x="250.10" y="392.70" font-size="6.4" text-anchor="middle" textLength="6.80" lengthAdjust="spacingAndGlyphs">14</text>
<text x="263.51" y="392.70" font-size="6.4" text-anchor="middle" textLength="6.80" lengthAdjust="spacingAndGlyphs">14</text>
<text x="276.93" y="392.70" font-size="6.4" text-anchor="middle" textLength="6.80" lengthAdjust="spacingAndGlyphs">10</text>
<text x="290.34" y="392.70" font-size="6.4" text-anchor="middle" textLength="6.80" lengthAdjust="spacingAndGlyphs">10</text>
<text x="303.76" y="392.70" font-size="6.4" text-anchor="middle" textLength="3.50" lengthAdjust="spacingAndGlyphs">9</text>
<text x="317.18" y="392.70" font-size="6.4" text-anchor="middle" textLength="3.50" lengthAdjust="spacingAndGlyphs">3</text>
<text x="330.59" y="392.70" font-size="6.4" text-anchor="middle" textLength="3.50" lengthAdjust="spacingAndGlyphs">2</text>
<text x="344.01" y="392.70" font-size="6.4" text-anchor="middle" textLength="3.50" lengthAdjust="spacingAndGlyphs">1</text>
<text x="357.42" y="392.70" font-size="6.4" text-anchor="middle" textLength="3.50" lengthAdjust="spacingAndGlyphs">1</text>
<text x="370.84" y="392.70" font-size="6.4" text-anchor="middle" textLength="3.50" lengthAdjust="spacingAndGlyphs">1</text>
<text x="384.26" y="392.70" font-size="6.4" text-anchor="middle" textLength="3.50" lengthAdjust="spacingAndGlyphs">0</text>
<text x="169.00" y="400.20" font-size="6.5" text-anchor="start" textLength="15.50" lengthAdjust="spacingAndGlyphs">Other</text>
<text x="169.60" y="407.70" font-size="6.4" text-anchor="middle" textLength="6.80" lengthAdjust="spacingAndGlyphs">30</text>
<text x="183.02" y="407.70" font-size="6.4" text-anchor="middle" textLength="6.80" lengthAdjust="spacingAndGlyphs">25</text>
<text x="196.43" y="407.70" font-size="6.4" text-anchor="middle" textLength="6.80" lengthAdjust="spacingAndGlyphs">17</text>
<text x="209.85" y="407.70" font-size="6.4" text-anchor="middle" textLength="6.80" lengthAdjust="spacingAndGlyphs">14</text>
<text x="223.26" y="407.70" font-size="6.4" text-anchor="middle" textLength="6.80" lengthAdjust="spacingAndGlyphs">12</text>
<text x="236.68" y="407.70" font-size="6.4" text-anchor="middle" textLength="6.80" lengthAdjust="spacingAndGlyphs">10</text>
<text x="250.10" y="407.70" font-size="6.4" text-anchor="middle" textLength="3.50" lengthAdjust="spacingAndGlyphs">7</text>
<text x="263.51" y="407.70" font-size="6.4" text-anchor="middle" textLength="3.50" lengthAdjust="spacingAndGlyphs">5</text>
<text x="276.93" y="407.70" font-size="6.4" text-anchor="middle" textLength="3.50" lengthAdjust="spacingAndGlyphs">3</text>
<text x="290.34" y="407.70" font-size="6.4" text-anchor="middle" textLength="3.50" lengthAdjust="spacingAndGlyphs">3</text>
<text x="303.76" y="407.70" font-size="6.4" text-anchor="middle" textLength="3.50" lengthAdjust="spacingAndGlyphs">3</text>
<text x="317.18" y="407.70" font-size="6.4" text-anchor="middle" textLength="3.50" lengthAdjust="spacingAndGlyphs">2</text>
<text x="330.59" y="407.70" font-size="6.4" text-anchor="middle" textLength="3.50" lengthAdjust="spacingAndGlyphs">1</text>
<text x="344.01" y="407.70" font-size="6.4" text-anchor="middle" textLength="3.50" lengthAdjust="spacingAndGlyphs">0</text>
</svg>
</body></html>
